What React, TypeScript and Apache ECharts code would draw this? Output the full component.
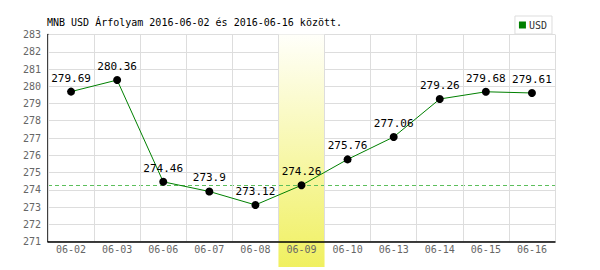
import React, { useEffect, useRef } from "react";
import * as echarts from "echarts";

const categories = ["06-02", "06-03", "06-06", "06-07", "06-08", "06-09", "06-10", "06-13", "06-14", "06-15", "06-16"];
const usdValues = [279.69, 280.36, 274.46, 273.9, 273.12, 274.26, 275.76, 277.06, 279.26, 279.68, 279.61];
const highlightCategory = "06-09";
const referenceValue = 274.26;
const titleText = "MNB USD Árfolyam 2016-06-02 és 2016-06-16 között.";
const seriesName = "USD";

const MONO = "'DejaVu Sans Mono', 'Liberation Mono', monospace";

export default function App() {
  const ref = useRef<HTMLDivElement>(null);
  useEffect(() => {
    document.body.style.margin = "0";
    if (!ref.current) return;
    const chart = echarts.init(ref.current, undefined, { renderer: "svg" });
    chart.setOption({
      animation: false,
      backgroundColor: "#ffffff",
      title: {
        text: titleText,
        left: 42,
        top: 12,
        textStyle: { fontFamily: MONO, fontSize: 10, fontWeight: "normal", color: "#000" },
      },
      legend: {
        data: [{ name: seriesName, itemStyle: { color: "#008000" } }],
        right: 48,
        top: 16,
        orient: "vertical",
        borderColor: "#dddddd",
        borderWidth: 1,
        padding: [4, 5, 4, 4],
        icon: "rect",
        itemWidth: 7,
        itemHeight: 7,
        itemGap: 4,
        textStyle: { fontFamily: MONO, fontSize: 10, color: "#333", padding: [0, 0, 0, -2] },
      },
      grid: { left: 48, right: 45, top: 34.5, bottom: 28.5, containLabel: false },
      xAxis: {
        type: "category",
        data: categories,
        boundaryGap: true,
        z: 3,
        axisLine: { lineStyle: { color: "#000", width: 1.5 } },
        axisTick: { show: false },
        axisLabel: { fontFamily: MONO, fontSize: 10, color: "#666", margin: 3 },
        splitLine: { show: true, lineStyle: { color: "#dddddd", width: 1 } },
      },
      yAxis: {
        type: "value",
        min: 271,
        max: 283,
        interval: 1,
        axisLine: { show: true, lineStyle: { color: "#000", width: 1.5 } },
        axisTick: { show: false },
        axisLabel: { fontFamily: MONO, fontSize: 10, color: "#666", margin: 7 },
        splitLine: { show: true, lineStyle: { color: "#dddddd", width: 1 } },
      },
      series: [
        {
          name: seriesName,
          type: "line",
          z: 4,
          data: usdValues,
          lineStyle: { color: "#008000", width: 1 },
          itemStyle: { color: "#000" },
          symbol: "circle",
          symbolSize: 8,
          showAllSymbol: true,
          label: {
            show: true,
            position: "top",
            distance: 4,
            fontFamily: MONO,
            fontSize: 11,
            color: "#000",
          },
        },
      ],
    });

    const idx = categories.indexOf(highlightCategory);
    const cx = chart.convertToPixel({ xAxisIndex: 0 }, idx) as number;
    const cxNext = chart.convertToPixel({ xAxisIndex: 0 }, idx + 1) as number;
    const bw = cxNext - cx;
    const topY = chart.convertToPixel({ yAxisIndex: 0 }, 283) as number;
    const refY = Math.round(chart.convertToPixel({ yAxisIndex: 0 }, referenceValue) as number) + 0.5;
    const leftX = (chart.convertToPixel({ xAxisIndex: 0 }, 0) as number) - bw / 2;
    const rightX = (chart.convertToPixel({ xAxisIndex: 0 }, categories.length - 1) as number) + bw / 2;
    const bottomY = 267;
    chart.setOption({
      graphic: [
        {
          type: "rect",
          z: 1,
          silent: true,
          shape: { x: cx - bw / 2, y: topY, width: bw, height: bottomY - topY },
          style: {
            fill: new echarts.graphic.LinearGradient(0, 0, 0, 1, [
              { offset: 0, color: "#fffffa" },
              { offset: 1, color: "#f0f060" },
            ]),
          },
        },
        {
          type: "line",
          z: 2,
          silent: true,
          shape: { x1: leftX, y1: refY, x2: rightX, y2: refY },
          style: { stroke: "#5cbf5c", lineWidth: 1, lineDash: [4, 3] },
        },
      ],
    });

    return () => chart.dispose();
  }, []);
  return <div ref={ref} style={{ width: 600, height: 270 }} />;
}
